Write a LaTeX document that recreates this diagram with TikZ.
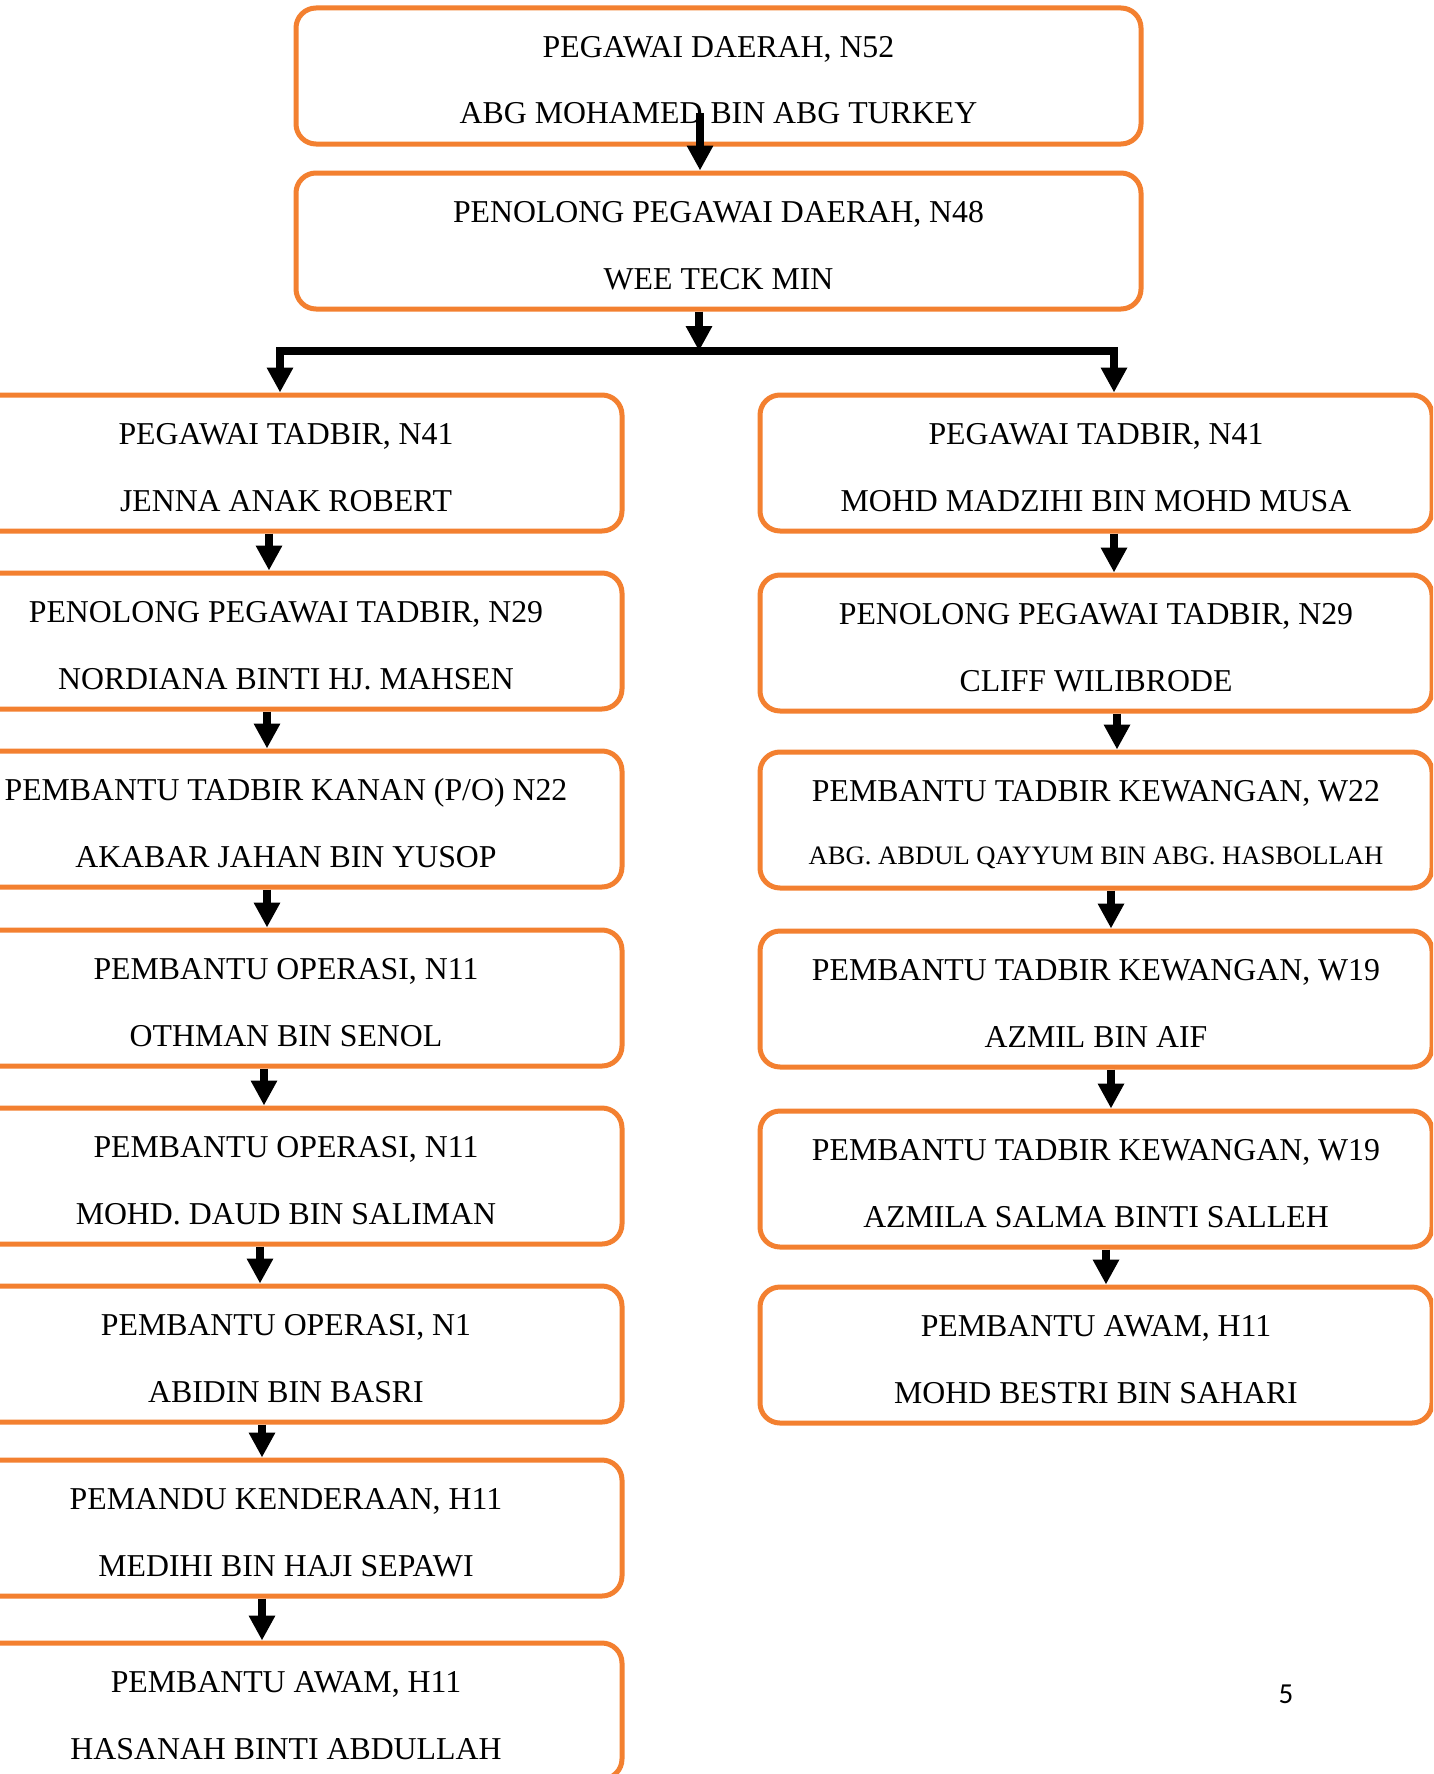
\documentclass[tikz,border=0pt]{standalone}
\usepackage{fontspec}
\setmainfont{Liberation Serif}
\newfontfamily\pgnumfont{Carlito}
\usetikzlibrary{arrows.meta}
\definecolor{boxorange}{RGB}{243,128,48}
\tikzset{
  orgbox/.style={draw=boxorange, line width=5pt, rounded corners=20pt, minimum width=672pt, minimum height=136pt, inner sep=0pt, fill=white},
  topbox/.style={orgbox, minimum width=845pt},
  lbl/.style={anchor=base, inner sep=0pt, font=\fontsize{31.8}{38}\selectfont},
  smalllbl/.style={anchor=base, inner sep=0pt, font=\fontsize{26.6}{32}\selectfont},
  arr/.style={line width=8pt, line join=miter, -{Triangle[width=25pt,length=25pt]}},
}
\newcommand\orgunit[6]{%
  \node[#4] (#1) at (#2,#3+68) {};
  \node[lbl] (#1a) at (#2,#3+49.5) {#5};
  \node[lbl] (#1b) at (#2,#3+116) {#6};
}
\begin{document}
\begin{tikzpicture}[x=1pt,y=-1pt]
\useasboundingbox (0,0) rectangle (1433,1774);
\fill[white] (0,0) rectangle (1433,1774);
\clip (0,0) rectangle (1433,1774);

% top boxes
\orgunit{T1}{718.5}{8}{topbox}{PEGAWAI DAERAH, N52}{ABG MOHAMED BIN ABG TURKEY}
\orgunit{T2}{718.5}{173}{topbox}{PENOLONG PEGAWAI DAERAH, N48}{WEE TECK MIN}

% left column
\orgunit{L1}{286}{395}{orgbox}{PEGAWAI TADBIR, N41}{JENNA ANAK ROBERT}
\orgunit{L2}{286}{573}{orgbox}{PENOLONG PEGAWAI TADBIR, N29}{NORDIANA BINTI HJ. MAHSEN}
\orgunit{L3}{286}{751}{orgbox}{PEMBANTU TADBIR KANAN (P/O) N22}{AKABAR JAHAN BIN YUSOP}
\orgunit{L4}{286}{930}{orgbox}{PEMBANTU OPERASI, N11}{OTHMAN BIN SENOL}
\orgunit{L5}{286}{1108}{orgbox}{PEMBANTU OPERASI, N11}{MOHD. DAUD BIN SALIMAN}
\orgunit{L6}{286}{1286}{orgbox}{PEMBANTU OPERASI, N1}{ABIDIN BIN BASRI}
\orgunit{L7}{286}{1460}{orgbox}{PEMANDU KENDERAAN, H11}{MEDIHI BIN HAJI SEPAWI}
\orgunit{L8}{286}{1643}{orgbox}{PEMBANTU AWAM, H11}{HASANAH BINTI ABDULLAH}

% right column
\orgunit{R1}{1096}{395}{orgbox}{PEGAWAI TADBIR, N41}{MOHD MADZIHI BIN MOHD MUSA}
\orgunit{R2}{1096}{575}{orgbox}{PENOLONG PEGAWAI TADBIR, N29}{CLIFF WILIBRODE}
\node[orgbox] (R3) at (1096,752+68) {};
\node[lbl] (R3a) at (1096,752+49.5) {PEMBANTU TADBIR KEWANGAN, W22};
\node[smalllbl] (R3b) at (1096,752+112) {ABG. ABDUL QAYYUM BIN ABG. HASBOLLAH};
\orgunit{R4}{1096}{931}{orgbox}{PEMBANTU TADBIR KEWANGAN, W19}{AZMIL BIN AIF}
\orgunit{R5}{1096}{1111}{orgbox}{PEMBANTU TADBIR KEWANGAN, W19}{AZMILA SALMA BINTI SALLEH}
\orgunit{R6}{1096}{1287}{orgbox}{PEMBANTU AWAM, H11}{MOHD BESTRI BIN SAHARI}

% connectors
\coordinate (a0) at (700,113);
\coordinate (jn) at (699,351);
\coordinate (jl) at (280,351);
\coordinate (jr) at (1114,351);
\draw[arr] (a0) -- (T2.north -| a0);
\draw[arr] (T2.south -| jn) -- (jn);
\draw[arr] (jn) -| (L1.north -| jl);
\draw[arr] (jn) -| (R1.north -| jr);

\draw[arr] ([xshift=-17pt]L1.south) -- ([xshift=-17pt]L2.north);
\draw[arr] ([xshift=-19pt]L2.south) -- ([xshift=-19pt]L3.north);
\draw[arr] ([xshift=-19pt]L3.south) -- ([xshift=-19pt]L4.north);
\draw[arr] ([xshift=-22pt]L4.south) -- ([xshift=-22pt]L5.north);
\draw[arr] ([xshift=-26pt]L5.south) -- ([xshift=-26pt]L6.north);
\draw[arr] ([xshift=-24pt]L6.south) -- ([xshift=-24pt]L7.north);
\draw[arr] ([xshift=-24pt]L7.south) -- ([xshift=-24pt]L8.north);

\draw[arr] ([xshift=18pt]R1.south) -- ([xshift=18pt]R2.north);
\draw[arr] ([xshift=21pt]R2.south) -- ([xshift=21pt]R3.north);
\draw[arr] ([xshift=15pt]R3.south) -- ([xshift=15pt]R4.north);
\draw[arr] ([xshift=15pt]R4.south) -- ([xshift=15pt]R5.north);
\draw[arr] ([xshift=10pt]R5.south) -- ([xshift=10pt]R6.north);

% page number
\node[anchor=base, inner sep=0pt, font=\pgnumfont\fontsize{29}{34}\selectfont] (pg) at (1286,1703) {5};
\end{tikzpicture}
\end{document}
